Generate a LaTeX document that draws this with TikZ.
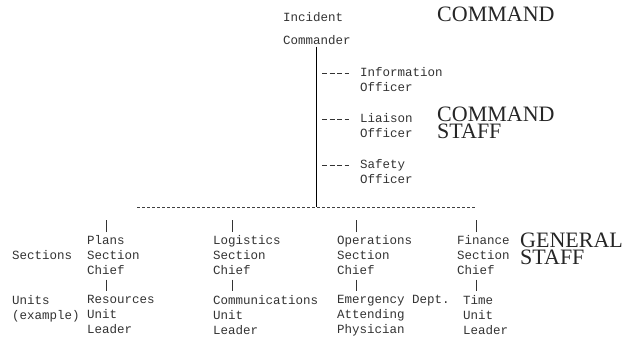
\documentclass[tikz,border=0pt]{standalone}
\usepackage{fontspec}
\setmainfont{Liberation Serif}
\setmonofont{Liberation Mono}
\usetikzlibrary{positioning}

\begin{document}
\begin{tikzpicture}
  [x=1pt, y=-1pt,
   typed/.style={font=\ttfamily\fontsize{12.5}{15}\selectfont, text=black!80,
     align=left, inner sep=0pt, anchor=north west},
   heading/.style={font=\fontsize{22}{17}\selectfont, text=black!85,
     align=left, inner sep=0pt, anchor=north west},
   stub/.style={line width=0.7pt, black!80},
   tie/.style={line width=0.7pt, dash pattern=on 5pt off 2.5pt, black!80},
   bus/.style={line width=0.7pt, dash pattern=on 2.5pt off 2.5pt, black!75}]
\useasboundingbox (0,0) rectangle (626,348);

\node[typed] (ic) at (283,12) {Incident\\[8pt]Commander};
\node[typed] (info) at (360,67) {Information\\Officer};
\node[typed] (liaison) at (360,113) {Liaison\\Officer};
\node[typed] (safety) at (360,159) {Safety\\Officer};

\node[heading] (cmd) at (437,7) {COMMAND};
\node[heading] (cmdstaff) at (437,107) {COMMAND\\STAFF};
\node[heading] (genstaff) at (520,233) {GENERAL\\STAFF};

\node[typed] (sections) at (12,250) {Sections};
\node[typed] (units) at (12,295) {Units\\(example)};

\node[typed] (plans) at (87,235) {Plans\\Section\\Chief};
\node[typed] (logistics) at (213,235) {Logistics\\Section\\Chief};
\node[typed] (operations) at (337,235) {Operations\\Section\\Chief};
\node[typed] (finance) at (457,235) {Finance\\Section\\Chief};

\node[typed] (resources) at (87,295) {Resources\\Unit\\Leader};
\node[typed] (comms) at (213,295) {Communications\\Unit\\Leader};
\node[typed] (erdoc) at (337,295) {Emergency Dept.\\Attending\\Physician};
\node[typed] (time) at (463,295) {Time\\Unit\\Leader};

\coordinate (busleft) at (137,207);
\coordinate (busright) at (476,207);
\draw[line width=1pt] ([yshift=-2pt]ic.south) -- (ic.south |- busleft);
\draw[bus] (busleft) -- (busright);

\foreach \o in {info,liaison,safety}
  \draw[tie] ([shift={(-38,6)}]\o.north west) -- ++(27,0);

\foreach \s/\u in {plans/resources,logistics/comms,operations/erdoc,finance/time}
{
  \draw[stub] ([shift={(19,-3)}]\s.north west) -- ++(0,-12);
  \draw[stub] ([shift={(19,5)}]\s.south west) -- ([shift={(19,-4)}]\s.south west |- \u.north);
}
\end{tikzpicture}
\end{document}
